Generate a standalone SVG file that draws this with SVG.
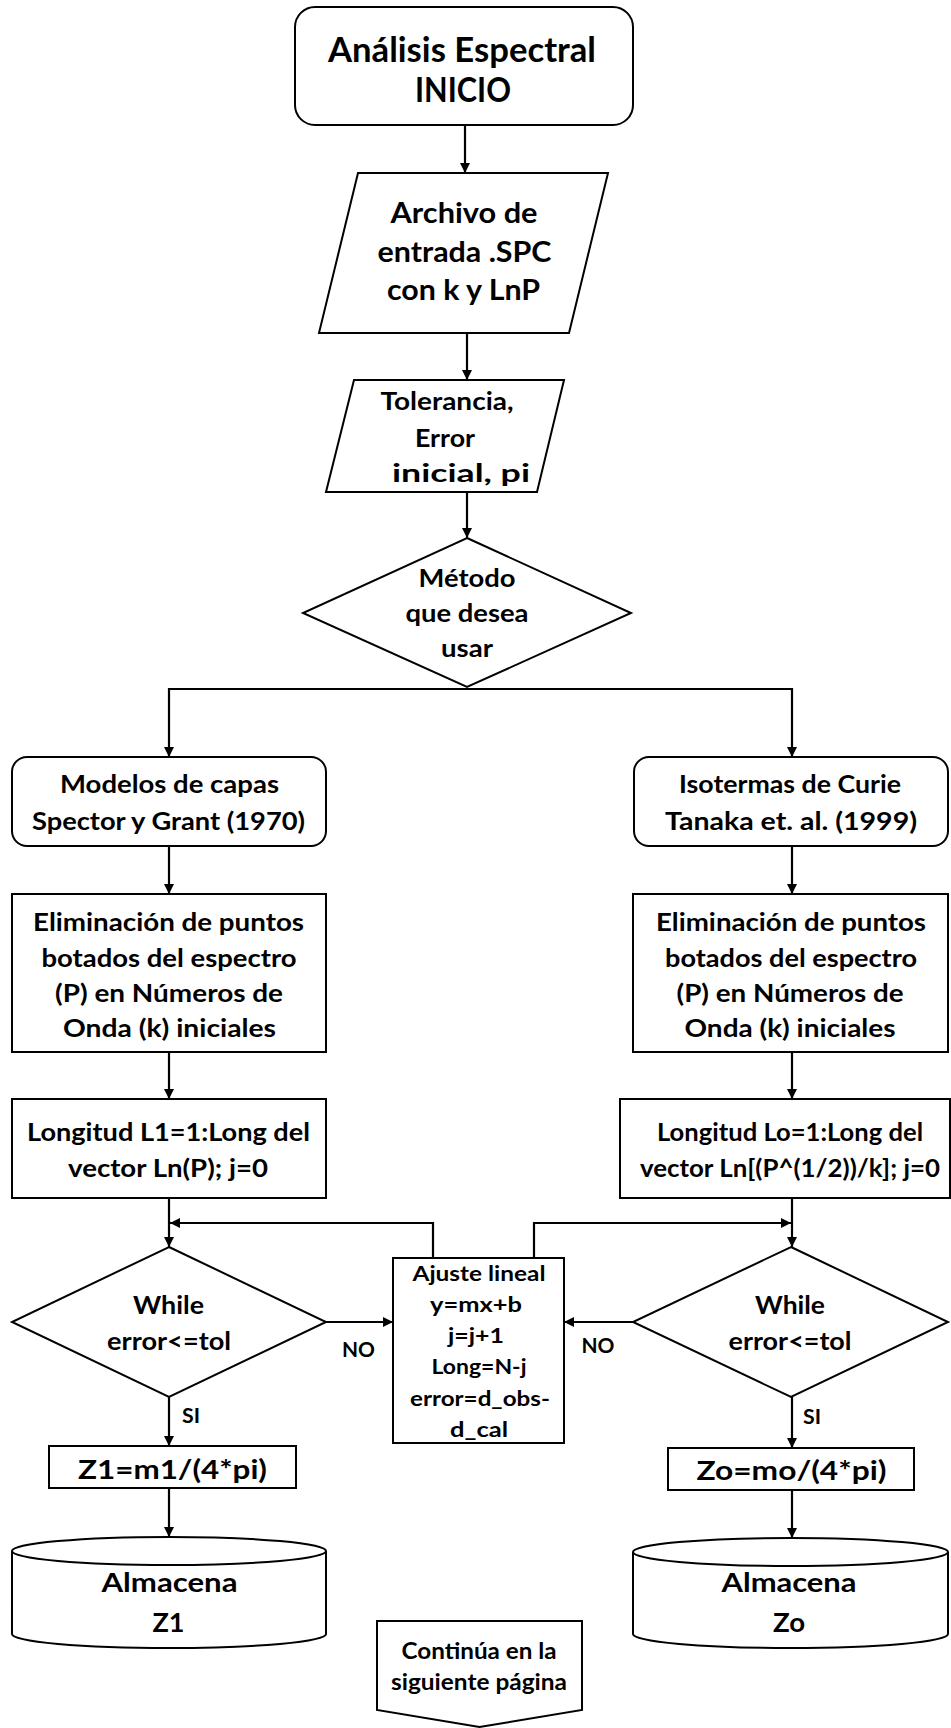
<svg xmlns="http://www.w3.org/2000/svg" width="951" height="1728" viewBox="0 0 951 1728">
<style>
.s{fill:#fff;stroke:#000;stroke-width:2}
.c{fill:none;stroke:#000;stroke-width:2.2}
text{font-family:Lato,"Open Sans","Liberation Sans",sans-serif;font-weight:bold;fill:#000;text-anchor:middle}
.t1{font-size:34px}.t2{font-size:28.5px}.t3{font-size:25.5px}.t4{font-size:24.5px}.t5{font-size:21.5px}.t6{font-size:20.5px}.t7{font-size:27px}.t8{font-size:26.5px}.t9{font-size:23px}
</style>
<defs>
<marker id="ah" markerUnits="userSpaceOnUse" markerWidth="11" markerHeight="10" refX="10" refY="5" orient="auto">
<path d="M0,0 L10,5 L0,10 Z" fill="#000"/>
</marker>
</defs>
<rect width="951" height="1728" fill="#fff"/>
<g id="connectors">
<path class="c" d="M465,125 V173" marker-end="url(#ah)"/>
<path class="c" d="M467,333 V380" marker-end="url(#ah)"/>
<path class="c" d="M467,492 V538" marker-end="url(#ah)"/>
<path class="c" d="M467,689 H169 V757" marker-end="url(#ah)"/>
<path class="c" d="M467,689 H792 V757" marker-end="url(#ah)"/>
<path class="c" d="M169,846 V894" marker-end="url(#ah)"/>
<path class="c" d="M792,846 V894" marker-end="url(#ah)"/>
<path class="c" d="M169,1052 V1099" marker-end="url(#ah)"/>
<path class="c" d="M792,1052 V1099" marker-end="url(#ah)"/>
<path class="c" d="M169,1198 V1247" marker-end="url(#ah)"/>
<path class="c" d="M792,1198 V1247" marker-end="url(#ah)"/>
<path class="c" d="M433,1258 V1223 H170" marker-end="url(#ah)"/>
<path class="c" d="M534,1258 V1223 H791" marker-end="url(#ah)"/>
<path class="c" d="M326,1322 H393" marker-end="url(#ah)"/>
<path class="c" d="M633,1322 H564" marker-end="url(#ah)"/>
<path class="c" d="M169,1397 V1446" marker-end="url(#ah)"/>
<path class="c" d="M792,1397 V1448" marker-end="url(#ah)"/>
<path class="c" d="M169,1488 V1537" marker-end="url(#ah)"/>
<path class="c" d="M792,1490 V1538" marker-end="url(#ah)"/>
<text class="t5" x="358.5" y="1357" textLength="33" lengthAdjust="spacingAndGlyphs">NO</text>
<text class="t5" x="598" y="1353" textLength="33" lengthAdjust="spacingAndGlyphs">NO</text>
<text class="t6" x="191" y="1423" textLength="18" lengthAdjust="spacingAndGlyphs">SI</text>
<text class="t6" x="812" y="1424" textLength="18" lengthAdjust="spacingAndGlyphs">SI</text>
</g>
<g id="inicio">
<rect class="s" x="295" y="7" width="338" height="118" rx="20"/>
<text class="t1" x="462" y="62" textLength="268" lengthAdjust="spacingAndGlyphs">Análisis Espectral</text>
<text class="t1" x="463" y="102" textLength="96" lengthAdjust="spacingAndGlyphs">INICIO</text>
</g>
<g id="archivo">
<polygon class="s" points="358,173 608,173 569,333 319,333"/>
<text class="t2" x="464" y="223" textLength="147" lengthAdjust="spacingAndGlyphs">Archivo de</text>
<text class="t2" x="464.5" y="262" textLength="174" lengthAdjust="spacingAndGlyphs">entrada .SPC</text>
<text class="t2" x="463.5" y="300" textLength="153" lengthAdjust="spacingAndGlyphs">con k y LnP</text>
</g>
<g id="tolerancia">
<polygon class="s" points="354,380 564,380 537,492 326,492"/>
<text class="t3" x="447" y="410" textLength="133" lengthAdjust="spacingAndGlyphs">Tolerancia,</text>
<text class="t3" x="445" y="447" textLength="60" lengthAdjust="spacingAndGlyphs">Error</text>
<text class="t3" x="461" y="482" textLength="138" lengthAdjust="spacingAndGlyphs">inicial, pi</text>
</g>
<g id="metodo">
<polygon class="s" points="467,538 631,613 467,687 303,613"/>
<text class="t4" x="467" y="587" textLength="97" lengthAdjust="spacingAndGlyphs">Método</text>
<text class="t4" x="467" y="622" textLength="123" lengthAdjust="spacingAndGlyphs">que desea</text>
<text class="t4" x="467" y="657" textLength="52" lengthAdjust="spacingAndGlyphs">usar</text>
</g>
<g id="modelos">
<rect class="s" x="12" y="757" width="314" height="89" rx="15"/>
<text class="t3" x="169.5" y="793" textLength="219" lengthAdjust="spacingAndGlyphs">Modelos de capas</text>
<text class="t3" x="168.5" y="830" textLength="273" lengthAdjust="spacingAndGlyphs">Spector y Grant (1970)</text>
</g>
<g id="isotermas">
<rect class="s" x="634" y="757" width="314" height="89" rx="15"/>
<text class="t3" x="790" y="793" textLength="222" lengthAdjust="spacingAndGlyphs">Isotermas de Curie</text>
<text class="t3" x="791" y="830" textLength="252" lengthAdjust="spacingAndGlyphs">Tanaka et. al. (1999)</text>
</g>
<g id="elim-left">
<rect class="s" x="12" y="894" width="314" height="158"/>
<text class="t3" x="168.5" y="931" textLength="271" lengthAdjust="spacingAndGlyphs">Eliminación de puntos</text>
<text class="t3" x="169" y="967" textLength="255" lengthAdjust="spacingAndGlyphs">botados del espectro</text>
<text class="t3" x="169" y="1002" textLength="228" lengthAdjust="spacingAndGlyphs">(P) en Números de</text>
<text class="t3" x="169.5" y="1037" textLength="213" lengthAdjust="spacingAndGlyphs">Onda (k) iniciales</text>
</g>
<g id="elim-right">
<rect class="s" x="633" y="894" width="315" height="158"/>
<text class="t3" x="791" y="931" textLength="270" lengthAdjust="spacingAndGlyphs">Eliminación de puntos</text>
<text class="t3" x="791" y="967" textLength="252" lengthAdjust="spacingAndGlyphs">botados del espectro</text>
<text class="t3" x="790" y="1002" textLength="227" lengthAdjust="spacingAndGlyphs">(P) en Números de</text>
<text class="t3" x="790" y="1037" textLength="211" lengthAdjust="spacingAndGlyphs">Onda (k) iniciales</text>
</g>
<g id="longitud-left">
<rect class="s" x="12" y="1099" width="314" height="99"/>
<text class="t3" x="168.5" y="1141" textLength="283" lengthAdjust="spacingAndGlyphs">Longitud L1=1:Long del</text>
<text class="t3" x="168" y="1177" textLength="200" lengthAdjust="spacingAndGlyphs">vector Ln(P); j=0</text>
</g>
<g id="longitud-right">
<rect class="s" x="620" y="1099" width="330" height="99"/>
<text class="t3" x="790" y="1141" textLength="266" lengthAdjust="spacingAndGlyphs">Longitud Lo=1:Long del</text>
<text class="t3" x="790" y="1177" textLength="300" lengthAdjust="spacingAndGlyphs">vector Ln[(P^(1/2))/k]; j=0</text>
</g>
<g id="while-left">
<polygon class="s" points="169,1247 326,1322 169,1397 12,1322"/>
<text class="t4" x="168.5" y="1314" textLength="71" lengthAdjust="spacingAndGlyphs">While</text>
<text class="t4" x="169" y="1350" textLength="124" lengthAdjust="spacingAndGlyphs">error&lt;=tol</text>
</g>
<g id="while-right">
<polygon class="s" points="791,1247 948,1322 791,1397 633,1322"/>
<text class="t4" x="790" y="1314" textLength="70" lengthAdjust="spacingAndGlyphs">While</text>
<text class="t4" x="790" y="1350" textLength="123" lengthAdjust="spacingAndGlyphs">error&lt;=tol</text>
</g>
<g id="ajuste">
<rect class="s" x="393" y="1258" width="171" height="185"/>
<text class="t5" x="479" y="1281" textLength="133" lengthAdjust="spacingAndGlyphs">Ajuste lineal</text>
<text class="t5" x="476" y="1312" textLength="92" lengthAdjust="spacingAndGlyphs">y=mx+b</text>
<text class="t5" x="476" y="1343" textLength="56" lengthAdjust="spacingAndGlyphs">j=j+1</text>
<text class="t5" x="479" y="1374" textLength="95" lengthAdjust="spacingAndGlyphs">Long=N-j</text>
<text class="t5" x="480" y="1406" textLength="140" lengthAdjust="spacingAndGlyphs">error=d_obs-</text>
<text class="t5" x="479" y="1437" textLength="58" lengthAdjust="spacingAndGlyphs">d_cal</text>
</g>
<g id="z1">
<rect class="s" x="49" y="1446" width="247" height="42"/>
<text class="t7" x="172.5" y="1479" textLength="189" lengthAdjust="spacingAndGlyphs">Z1=m1/(4*pi)</text>
</g>
<g id="zo">
<rect class="s" x="668" y="1448" width="246" height="42"/>
<text class="t7" x="791.5" y="1480" textLength="190" lengthAdjust="spacingAndGlyphs">Zo=mo/(4*pi)</text>
</g>
<g id="almacena-z1">
<path class="s" d="M12,1551 A157,14 0 0 1 326,1551 V1634 A157,14 0 0 1 12,1634 Z"/>
<path class="c" style="stroke-width:2" d="M12,1551 A157,14 0 0 0 326,1551"/>
<text class="t8" x="169.5" y="1592" textLength="136" lengthAdjust="spacingAndGlyphs">Almacena</text>
<text class="t8" x="168.5" y="1632" textLength="32" lengthAdjust="spacingAndGlyphs">Z1</text>
</g>
<g id="almacena-zo">
<path class="s" d="M633,1552 A157.5,14 0 0 1 948,1552 V1634 A157.5,14 0 0 1 633,1634 Z"/>
<path class="c" style="stroke-width:2" d="M633,1552 A157.5,14 0 0 0 948,1552"/>
<text class="t8" x="789" y="1592" textLength="135" lengthAdjust="spacingAndGlyphs">Almacena</text>
<text class="t8" x="789" y="1632" textLength="32" lengthAdjust="spacingAndGlyphs">Zo</text>
</g>
<g id="continua">
<polygon class="s" points="377,1621 582,1621 582,1710 479.5,1727 377,1710"/>
<text class="t9" x="479" y="1659" textLength="155" lengthAdjust="spacingAndGlyphs">Continúa en la</text>
<text class="t9" x="479" y="1690" textLength="176" lengthAdjust="spacingAndGlyphs">siguiente página</text>
</g>
</svg>
